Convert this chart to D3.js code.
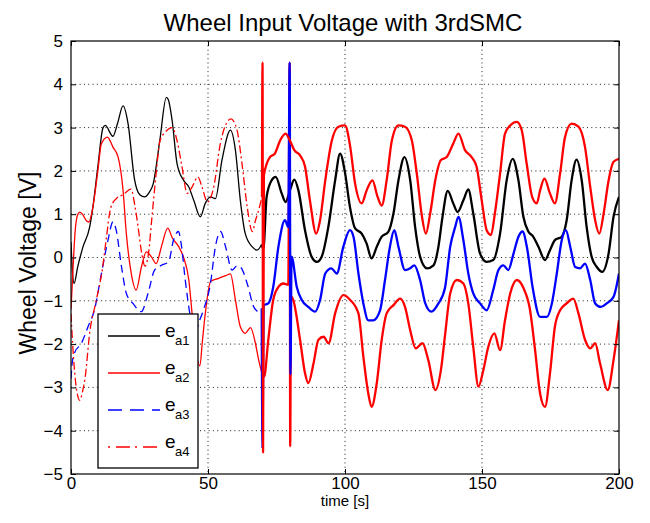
<!DOCTYPE html>
<html>
<head>
<meta charset="utf-8">
<script src="https://cdn.jsdelivr.net/npm/d3@7"></script>
<style>
  body { margin: 0; background: #fff; }
  svg text { font-family: "Liberation Sans", Arial, Helvetica, sans-serif; fill: #000; }
</style>
</head>
<body>
<svg id="chart" width="650" height="523"></svg>
<script>
// Wheel input voltages as [time s, volts]

const xTicks = [0, 50, 100, 150, 200];
const yTicks = [-5, -4, -3, -2, -1, 0, 1, 2, 3, 4, 5];
const seriesNames = ['a1', 'a2', 'a3', 'a4'];

const ea1 = [[0,0.35],[0.5,-0.3],[1.1,-0.6],[2.5,-0.2],[4.4,0.25],[6.8,0.7],[8,1.17],[9.8,2.1],[11.7,3.0],
  [12.5,3.05],[15.3,2.8],[17,3.1],[19,3.5],[20.8,3.1],[23.2,1.8],[25.1,1.45],[26.9,1.4],[28.5,1.5],[30,1.7],
  [32.4,2.7],[34.8,3.7],[35.5,3.65],[36.9,3.17],[38.7,2.17],[41.1,1.78],[43,1.63],[44.8,1.32],[47.2,0.94],
  [49,1.25],[50.9,1.4],[52.7,1.36],[55.1,2.25],[58.2,2.94],[60,2.48],[61.8,1.32],[63.6,0.55],[66.1,0.25],
  [67.9,0.17],[69.6,0.3],[70.2,0.2],[71.4,1.4],[73.2,1.78],[74.7,1.86],[76.9,1.48],[78.3,1.28],[79.9,1.55],
  [81.5,1.8],[83,1.55],[85.4,0.63],[87.8,0.02],[89.7,-0.1],[91.5,0.02],[93.9,0.7],[96.4,1.78],[98.2,2.4],
  [100,1.96],[101.8,1.17],[103.7,0.67],[106.1,0.55],[107.9,0.32],[109.7,-0.02],[111.6,0.25],[113.4,0.48],
  [115.8,0.59],[117.7,1.02],[119.5,1.78],[121.7,2.32],[123.8,1.78],[125.6,0.7],[127.4,0.02],[129.9,-0.25],
  [132.3,-0.18],[134.1,0.25],[135.5,0.9],[137.5,1.54],[139.5,1.25],[141.1,1.05],[143.2,1.32],[145,1.57],
  [146.8,1.02],[149.3,0.09],[151.7,-0.1],[154.1,-0.06],[156.6,0.55],[159,1.78],[161.2,2.28],[163.3,1.78],
  [165.1,0.94],[166.9,0.6],[168.5,0.5],[170.6,0.25],[173,-0.06],[174.8,0.17],[176.6,0.4],[179.1,0.48],
  [180.9,0.86],[182.7,1.78],[184.5,2.26],[186.4,1.78],[188.2,0.7],[190,0.02],[191.9,-0.22],[193.9,-0.33],
  [196.2,0.09],[198,0.94],[200,1.4]];

const ea2 = [[0,-1.2],[0.7,-0.3],[1.5,0.6],[2.5,1.0],[3.2,1.05],[4.4,0.98],[5.6,0.85],[6.5,0.82],[8,1.17],
  [9.8,2.0],[11.1,2.63],[13.3,2.78],[15.3,2.55],[17.2,2.32],[19,1.55],[20.2,0.55],[22,-0.37],[23.8,-0.75],
  [25.7,-0.22],[27.5,0.13],[29.3,0.02],[31.1,-0.14],[33,0.25],[35.3,0.68],[37,0.45],[39.3,0.25],[41.1,0.0],
  [43,-0.52],[44.2,-1.3],[45.5,-2.1],[47,-2.5],[48,-1.9],[49,-1.3],[51,-0.55],[53.9,-0.48],[56.4,-0.42],
  [58.2,-0.38],[60,-0.98],[61.8,-1.6],[63.6,-1.75],[65.5,-1.62],[67.3,-1.98],[68.5,-2.37],[69.8,-2.7],
  [70.5,-2.75],[72,-1.9],[73.8,-0.98],[75.7,-0.68],[77.5,-0.6],[79.3,-0.63],[79.8,4.5],[80.0,-4.36],
  [80.3,-0.9],[81.1,-0.98],[83.6,-1.9],[85.4,-2.67],[86.6,-2.9],[88.5,-2.45],[90.3,-1.9],[92.2,-1.83],
  [94,-1.98],[96.4,-1.29],[99.4,-0.87],[101.9,-0.98],[104.9,-1.29],[106.7,-2.29],[108.5,-3.14],[109.7,-3.45],
  [111.6,-2.9],[113.4,-1.9],[115.2,-1.29],[117.7,-1.1],[120.1,-0.95],[121.9,-1.14],[123.8,-1.68],[125.8,-2.1],
  [128.3,-1.98],[130.4,-2.37],[133,-3.06],[135,-2.6],[136.5,-1.8],[138.4,-0.83],[140.8,-0.52],[143.2,-0.6],
  [145,-1.06],[146.8,-2.06],[148.7,-2.98],[150.5,-2.6],[152.3,-2.06],[154.5,-1.75],[156.6,-2.14],[158.4,-1.45],
  [160.3,-0.83],[162.7,-0.52],[165.1,-0.7],[167.5,-1.2],[169.3,-2.1],[171.2,-3.14],[173,-3.45],[174.8,-2.68],
  [176.6,-1.6],[178.5,-1.22],[180.9,-1.06],[183.3,-0.95],[185.2,-1.29],[187.6,-1.9],[189.5,-2.1],[191.3,-1.98],
  [193.1,-2.45],[195.9,-3.06],[198,-2.37],[200,-1.45]];

const ea3 = [[0,-2.8],[0.5,-2.4],[1.3,-2.2],[3.8,-1.98],[6.2,-1.6],[8.6,-1.2],[11.1,-0.37],[13.5,0.4],
  [15.3,0.82],[16.5,0.63],[18.4,-0.2],[20.2,-0.83],[22.6,-1.06],[25.7,-1.25],[28.1,-0.83],[30.5,-0.29],
  [33,-0.18],[35.6,-0.1],[37.4,0.4],[39.2,0.6],[40.2,0.32],[41.7,-0.52],[43.6,-1.37],[45.4,-1.7],[47,-1.44],
  [48.4,-1.2],[50.9,-0.6],[52.7,0.25],[54.6,0.6],[56.4,0.25],[58.8,-0.29],[60.5,-0.2],[61.8,-0.22],
  [64.3,-0.6],[66.7,-1.14],[68.5,-1.25],[69.6,-1.18],[69.9,-4.4],[70.3,-1.1],[72,-1.06],[73.8,-0.68],
  [75.7,0.25],[78.1,0.86],[79.3,0.7],[79.8,4.5],[80.1,-2.7],[80.5,0.02],[82.4,-0.68],[84.2,-0.98],
  [86.6,-1.14],[89.1,-1.25],[90.9,-0.98],[92.8,-0.37],[95,-0.25],[97,-0.37],[99.4,0.25],[101.8,0.63],
  [103.1,0.48],[104.9,-0.37],[106.7,-1.06],[108.5,-1.45],[110.3,-1.45],[112.8,-1.22],[114.6,-0.52],
  [116.4,0.25],[118,0.63],[119.5,0.25],[121.9,-0.29],[123.8,-0.25],[125.3,-0.18],[127.4,-0.52],[129.3,-1.06],
  [131.5,-1.25],[134.1,-1.06],[136.5,-0.7],[138.4,0.25],[140.2,0.7],[141.4,0.94],[143.2,0.4],[145,-0.37],
  [146.8,-0.83],[149.3,-1.06],[151.7,-1.22],[154.1,-0.75],[156,-0.29],[157.8,-0.18],[159.6,-0.29],
  [161.5,0.09],[163.3,0.48],[164.8,0.6],[166.5,0.2],[168.5,-0.7],[171.2,-1.37],[173.7,-1.37],[175.5,-1.06],
  [177.3,-0.37],[179.1,0.4],[180.6,0.63],[182.2,0.25],[184,-0.22],[185.8,-0.25],[187.6,-0.14],[189.5,-0.52],
  [191.3,-1.06],[193.4,-1.14],[195.5,-1.06],[198,-0.91],[200,-0.37]];

const ea4 = [[0,-1.3],[0.6,-2.0],[1.4,-2.7],[2.3,-3.15],[3.2,-3.3],[4.2,-3.1],[5.1,-2.8],[6.9,-1.7],
  [9,-1.05],[11.5,-0.25],[12.9,0.45],[14.5,1.15],[16.7,1.37],[19,1.45],[21.9,1.58],[23.3,1.2],[24.5,0.7],
  [25.8,0.1],[27,-0.2],[28.3,0.1],[29.5,0.9],[31,1.9],[32.5,2.7],[34.5,2.9],[36.9,3.0],[38.7,2.7],[40.5,2.1],
  [42.4,1.48],[44.2,1.63],[46.3,1.86],[47.8,1.63],[49.8,1.28],[52.1,1.63],[54.5,2.63],[57,3.13],[58.4,3.2],
  [60.6,2.94],[62.4,2.17],[64.3,1.17],[66.2,0.6],[67.3,0.85],[68.5,1.1],[69.7,1.4],[69.9,4.5],[70.1,-4.5],
  [70.4,1.9],[72.6,2.32],[74.4,2.4],[76.3,2.7],[78.3,2.86],[79.9,2.7],[81.5,2.48],[83.6,2.36],[85.4,2.1],
  [87.2,1.32],[89.5,0.55],[90.9,0.86],[92.8,1.78],[95.2,2.7],[97.6,3.02],[100,3.05],[101.8,2.6],[103.7,1.7],
  [106.1,1.25],[107.9,1.55],[110,1.78],[111.9,1.4],[113.4,1.2],[115.2,1.78],[117.1,2.7],[119.5,3.05],
  [121.9,3.02],[124.4,2.7],[126.2,1.94],[128.1,0.94],[129.5,0.55],[131.1,1.02],[133,1.8],[135,2.25],
  [137.1,2.32],[139.5,2.63],[141.4,2.86],[143.8,2.48],[146.2,2.32],[148,2.1],[149.9,1.32],[151.7,0.63],
  [153.3,0.52],[154.7,1.02],[156.6,1.94],[158.4,2.86],[160.3,3.05],[162.7,3.13],[164.5,2.94],[166.3,2.17],
  [168.3,1.4],[170,1.25],[171.2,1.55],[172.8,1.82],[174.8,1.48],[176.6,1.25],[178.5,1.94],[180.3,2.78],
  [182.7,3.09],[185.2,3.02],[187.6,2.55],[189.5,1.63],[191.3,0.86],[192.8,0.55],[194.4,1.02],[196.2,1.78],
  [198,2.21],[200,2.28]];

const seriesData = [ea1, ea2, ea3, ea4];

// Styles: solid black, solid red, dashed blue, dash-dot red
const styles = [
  { color: '#000000', dash: null, legendDash: null },
  { color: '#ff0000', dash: null, legendDash: null },
  { color: '#0000ff', dash: '8,5', legendDash: '14,8' },
  { color: '#ff0000', dash: '8,3,2,3', legendDash: '2,6,14,5' }
];

const svg = d3.select('#chart');
const plotLeft = 71, plotRight = 619, plotTop = 41, plotBottom = 474;

const x = d3.scaleLinear().domain([0, 200]).range([plotLeft, plotRight]);
const y = d3.scaleLinear().domain([-5, 5]).range([plotBottom, plotTop]);

// Dotted grid
const grid = svg.append('g').attr('stroke', '#000').attr('stroke-width', 0.9)
  .attr('stroke-dasharray', '1,3.3');
grid.selectAll('.gx').data(xTicks.slice(1, -1)).join('line')
  .attr('x1', (d) => x(d)).attr('x2', (d) => x(d)).attr('y1', plotTop).attr('y2', plotBottom);
grid.selectAll('.gy').data(yTicks.slice(1, -1)).join('line')
  .attr('x1', plotLeft).attr('x2', plotRight).attr('y1', (d) => y(d)).attr('y2', (d) => y(d));

// Clip lines to the plot box
svg.append('clipPath').attr('id', 'clip').append('rect')
  .attr('x', plotLeft).attr('y', plotTop)
  .attr('width', plotRight - plotLeft).attr('height', plotBottom - plotTop);

const line = d3.line().x((d) => x(d[0])).y((d) => y(d[1])).curve(d3.curveMonotoneX);
const lines = svg.append('g').attr('clip-path', 'url(#clip)').attr('fill', 'none');

// Before ~70 s the traces are clean; afterwards they are noisy and look thick and solid
seriesData.forEach((d, i) => {
  let cut = d.findIndex((p) => p[0] >= 69.5);
  let pre = d.slice(0, cut + 1);
  let post = d.slice(cut);
  lines.append('path')
    .attr('d', line(pre))
    .attr('stroke', styles[i].color)
    .attr('stroke-width', 1.3)
    .attr('stroke-dasharray', styles[i].dash);
  lines.append('path')
    .attr('d', line(post))
    .attr('stroke', styles[i].color)
    .attr('stroke-width', 2.3)
    .attr('stroke-linejoin', 'round');
});

// Axes with inward ticks
const fontSize = 17;
svg.append('g').attr('transform', `translate(0,${plotBottom})`)
  .call(d3.axisBottom(x).tickValues(xTicks).tickSizeInner(-5).tickSizeOuter(0).tickPadding(3))
  .call((g) => g.select('.domain').remove())
  .call((g) => g.selectAll('text').attr('font-size', fontSize));
svg.append('g').attr('transform', `translate(0,${plotTop})`)
  .call(d3.axisTop(x).tickValues(xTicks).tickSizeInner(-5).tickSizeOuter(0).tickFormat(''))
  .call((g) => g.select('.domain').remove());
svg.append('g').attr('transform', `translate(${plotLeft},0)`)
  .call(d3.axisLeft(y).tickValues(yTicks).tickSizeInner(-5).tickSizeOuter(0).tickPadding(8))
  .call((g) => g.select('.domain').remove())
  .call((g) => g.selectAll('text').attr('font-size', fontSize));
svg.append('g').attr('transform', `translate(${plotRight},0)`)
  .call(d3.axisRight(y).tickValues(yTicks).tickSizeInner(-5).tickSizeOuter(0).tickFormat(''))
  .call((g) => g.select('.domain').remove());
svg.selectAll('.tick text').attr('font-family', null);

svg.append('rect')
  .attr('x', plotLeft).attr('y', plotTop)
  .attr('width', plotRight - plotLeft).attr('height', plotBottom - plotTop)
  .attr('fill', 'none').attr('stroke', '#000').attr('stroke-width', 1.2);

// Titles
svg.append('text').attr('x', 343).attr('y', 31).attr('text-anchor', 'middle')
  .attr('font-size', 24).text('Wheel Input Voltage with 3rdSMC');
svg.append('text').attr('x', 345).attr('y', 506).attr('text-anchor', 'middle')
  .attr('font-size', 15).text('time [s]');
svg.append('text').attr('transform', 'translate(36,263) rotate(-90)').attr('text-anchor', 'middle')
  .attr('font-size', 23).text('Wheel Voltage [V]');

// Legend
const legend = svg.append('g');
legend.append('rect').attr('x', 98).attr('y', 314).attr('width', 100).attr('height', 154)
  .attr('fill', '#fff').attr('stroke', '#000').attr('stroke-width', 1.3);
const legendY = [336, 373, 410, 447];
seriesNames.forEach((name, i) => {
  legend.append('line')
    .attr('x1', 108).attr('x2', 160).attr('y1', legendY[i]).attr('y2', legendY[i])
    .attr('stroke', styles[i].color).attr('stroke-width', 1.3)
    .attr('stroke-dasharray', styles[i].legendDash);
  legend.append('text').attr('x', 165).attr('y', legendY[i] + 1).attr('font-size', 19).text('e');
  legend.append('text').attr('x', 175).attr('y', legendY[i] + 9).attr('font-size', 13).text(name);
});
</script>
</body>
</html>
